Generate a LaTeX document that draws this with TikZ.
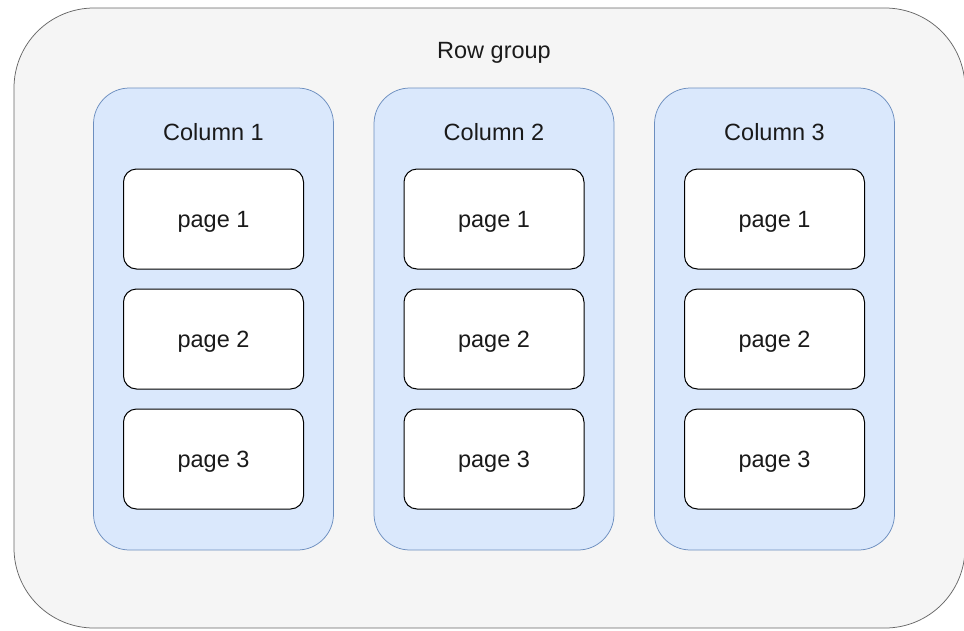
\documentclass[tikz,border=0pt]{standalone}
\usepackage{fontspec}
\setmainfont{Liberation Sans}
\definecolor{groupfill}{HTML}{F5F5F5}
\definecolor{groupline}{HTML}{666666}
\definecolor{colfill}{HTML}{DAE8FC}
\definecolor{colline}{HTML}{6C8EBF}
\definecolor{txt}{HTML}{1A1A1A}
\tikzset{
  rowbox/.style={draw=groupline,fill=groupfill,rounded corners=80pt,minimum width=951pt,minimum height=620pt,inner sep=0pt},
  colbox/.style={draw=colline,fill=colfill,rounded corners=36pt,minimum width=240pt,minimum height=462pt,inner sep=0pt},
  pagebox/.style={draw=black,fill=white,rounded corners=13pt,minimum width=180pt,minimum height=100pt,inner sep=0pt,text depth=0pt,line width=1pt},
  lbl/.style={inner sep=0pt}
}
\begin{document}
\begin{tikzpicture}
  [x=1pt,y=-1pt,font=\fontsize{23.5}{28}\selectfont,text=txt,line width=0.75pt]
  \useasboundingbox (0,0) rectangle (964,630);
  \begin{scope}
  \clip (0,0) rectangle (964,630);
  \node[rowbox] (row) at (489.5,318) {};
  \end{scope}
  \node[lbl] (rowlabel) at (494,53) {Row group};
  \foreach \c/\x in {1/213.5,2/494,3/774.5} {
    \node[colbox] (col\c) at (\x,319) {};
    \node[lbl] (coltitle\c) at (\x,132) {Column \c};
    \foreach \p/\y in {1/219,2/339,3/459}
      \node[pagebox] (page\c\p) at (\x,\y) {page \p};
  }
\end{tikzpicture}
\end{document}
